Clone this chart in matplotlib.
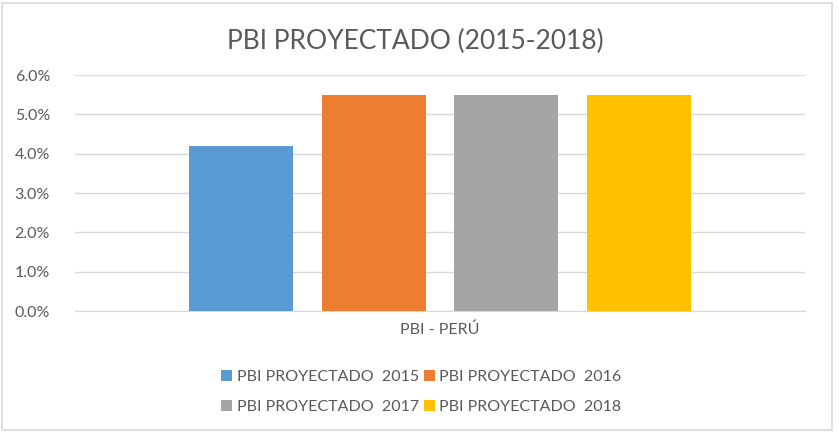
import matplotlib.pyplot as plt
from matplotlib.patches import Rectangle
from matplotlib.ticker import FuncFormatter

plt.rcParams['font.family'] = ['Lato', 'DejaVu Sans']

category = "PBI - PERÚ"
series = ["PBI PROYECTADO  2015", "PBI PROYECTADO  2016",
          "PBI PROYECTADO  2017", "PBI PROYECTADO  2018"]
values = [4.2, 5.5, 5.5, 5.5]
colors = ["#5b9bd5", "#ed7d31", "#a5a5a5", "#ffc000"]
yticks = [0, 1, 2, 3, 4, 5, 6]

txt = "#595959"
grid = "#d9d9d9"

fig = plt.figure(figsize=(8.39, 4.32), dpi=100)
ax = fig.add_axes([0.0894, 0.280, 0.870, 0.546])

offsets = [-1.5, -0.5, 0.5, 1.5]
bars = []
for off, v, c, name in zip(offsets, values, colors, series):
    bars.append(ax.bar(off, v, width=0.785, color=c, label=name, zorder=3))

ax.set_xlim(-2.75, 2.75)
ax.set_ylim(0, 6)
ax.set_yticks(yticks)
ax.yaxis.set_major_formatter(FuncFormatter(lambda v, p: f"{v:.1f}%"))
ax.set_xticks([0])
ax.set_xticklabels([category])
ax.tick_params(axis='both', length=0, colors=txt, labelsize=11.5)
ax.tick_params(axis='y', pad=18)
ax.tick_params(axis='x', pad=8)
ax.yaxis.grid(True, color=grid, linewidth=1, zorder=0)
for s in ['top', 'right', 'left']:
    ax.spines[s].set_visible(False)
ax.spines['bottom'].set_color(grid)

fig.text(0.495, 0.905, "PBI PROYECTADO (2015-2018)", ha='center', va='center',
         fontsize=19, color=txt)

# row-wise order in a 2-column legend
order = [0, 2, 1, 3]
leg = fig.legend([bars[i] for i in order], [series[i] for i in order],
                 loc='center', bbox_to_anchor=(0.502, 0.092), ncol=2,
                 frameon=False, fontsize=11.5, handlelength=0.7, handleheight=0.7,
                 handletextpad=0.3, columnspacing=0.3, labelspacing=1.0)
for t in leg.get_texts():
    t.set_color(txt)

fig.patches.append(Rectangle((0.002, 0.005), 0.99, 0.988, transform=fig.transFigure,
                             fill=False, edgecolor=grid, linewidth=1.2))

fig.savefig("out.png", dpi=100)
